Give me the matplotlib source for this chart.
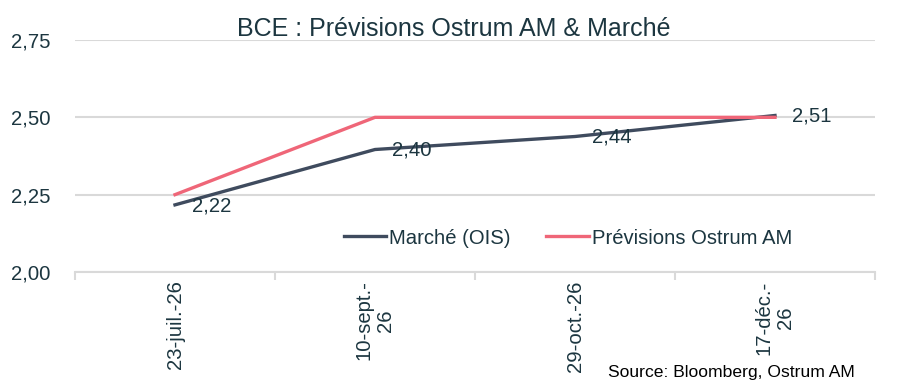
import matplotlib
matplotlib.use("Agg")
import matplotlib.pyplot as plt
from matplotlib.ticker import FixedLocator, FuncFormatter

# data
dates = ["23-juil.-26", "10-sept.-\n26", "29-oct.-26", "17-déc.-\n26"]
marche_ois = [2.217, 2.396, 2.438, 2.506]
ostrum_am = [2.25, 2.50, 2.50, 2.50]
y_ticks = [2.00, 2.25, 2.50, 2.75]

TEXT = "#1c3640"
NAVY = "#3f4b5e"
PINK = "#ef6678"
GRID = "#d9d9d9"
FS = 14.6

plt.rcParams["font.family"] = ["Liberation Sans", "DejaVu Sans"]

fig = plt.figure(figsize=(9.07, 3.85), dpi=100)
ax = fig.add_axes([75 / 907, 1 - 272 / 385, 800 / 907, 232 / 385])

x = list(range(len(dates)))
ax.plot(x, marche_ois, color=NAVY, lw=2.4, label="Marché (OIS)", zorder=3)
ax.plot(x, ostrum_am, color=PINK, lw=2.4, label="Prévisions Ostrum AM", zorder=3)

# data labels for the market line, placed right of each point
for xi, v in zip(x, marche_ois):
    ax.annotate(f"{v:.2f}".replace(".", ","), (xi, v), xytext=(12.5, -0.5),
                textcoords="offset points", ha="left", va="center",
                fontsize=FS, color=TEXT, zorder=4)

ax.set_xlim(-0.5, len(dates) - 0.5)
ax.set_ylim(y_ticks[0], y_ticks[-1])
ax.yaxis.set_major_locator(FixedLocator(y_ticks))
ax.yaxis.set_major_formatter(FuncFormatter(lambda v, p: f"{v:.2f}".replace(".", ",")))
ax.grid(axis="y", color=GRID, lw=1.5, zorder=0)
ax.tick_params(axis="y", length=0, pad=18, labelsize=FS, labelcolor=TEXT)

ax.set_xticks(x)
ax.set_xticklabels(dates, rotation=90, ha="center", va="top", multialignment="center",
                   fontsize=FS, color=TEXT)
ax.set_xticks([i - 0.5 for i in range(len(dates) + 1)], minor=True)
ax.tick_params(axis="x", which="major", length=0, pad=6)
ax.tick_params(axis="x", which="minor", length=6, width=1.5, color=GRID)

for s in ["top", "right", "left"]:
    ax.spines[s].set_visible(False)
ax.spines["bottom"].set_color(GRID)
ax.spines["bottom"].set_linewidth(1.5)

ax.legend(loc="center", bbox_to_anchor=((568 - 75) / 800, (272 - 238) / 232), ncol=2,
          frameon=False, fontsize=FS, labelcolor=TEXT, handlelength=2.1,
          handletextpad=0.15, columnspacing=1.75)

fig.text(0.5, 1 - 29 / 385, "BCE : Prévisions Ostrum AM & Marché", ha="center",
         va="center", fontsize=18, color=TEXT)
fig.text(855 / 907, 1 - 372 / 385, "Source: Bloomberg, Ostrum AM", ha="right",
         va="center", fontsize=12.6, color="black")

fig.savefig("out.png", dpi=100)
